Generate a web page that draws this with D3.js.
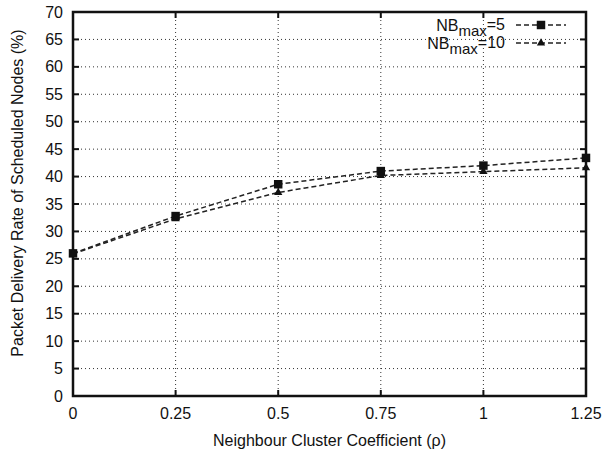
<!DOCTYPE html>
<meta charset="utf-8">
<style>
body { margin: 0; background: #fff; }
text { font-family: "Liberation Sans", Arial, sans-serif; fill: #111; }
.grid line { stroke: #333; stroke-dasharray: 1,3; stroke-width: 1; }
</style>
<body>
<script src="https://d3js.org/d3.v7.min.js"></script>
<script>
var xTicks = [0, 0.25, 0.5, 0.75, 1, 1.25];
var xLabels = ["0", "0.25", "0.5", "0.75", "1", "1.25"];
var yTicks = [0, 5, 10, 15, 20, 25, 30, 35, 40, 45, 50, 55, 60, 65, 70];
var nb5 = [26, 32.8, 38.6, 41.0, 42.0, 43.4];
var nb10 = [25.9, 32.3, 37.1, 40.2, 40.9, 41.6];
var seriesNames = ["5", "10"];

var width = 606, height = 454;
var margin = {top: 12, right: 20, bottom: 58, left: 73};
var w = width - margin.left - margin.right,
    h = height - margin.top - margin.bottom;

var svg = d3.select("body").append("svg")
    .attr("width", width)
    .attr("height", height);
var g = svg.append("g")
    .attr("transform", "translate(" + margin.left + "," + margin.top + ")");

var x = d3.scaleLinear().domain([0, 1.25]).range([0, w]);
var y = d3.scaleLinear().domain([0, 70]).range([h, 0]);

// grid
var grid = g.append("g").attr("class", "grid");
grid.selectAll(".gy").data(yTicks.slice(1, -1)).enter().append("line")
    .attr("x1", 0).attr("x2", w)
    .attr("y1", function(d) { return y(d); }).attr("y2", function(d) { return y(d); });
grid.selectAll(".gx").data(xTicks.slice(1, -1)).enter().append("line")
    .attr("y1", 0).attr("y2", h)
    .attr("x1", function(d) { return x(d); }).attr("x2", function(d) { return x(d); });

// inward ticks on all four sides
var tk = 6;
var ticks = g.append("g").attr("stroke", "#111").attr("stroke-width", 2);
yTicks.forEach(function(d) {
  ticks.append("line").attr("x1", 0).attr("x2", tk).attr("y1", y(d)).attr("y2", y(d));
  ticks.append("line").attr("x1", w).attr("x2", w - tk).attr("y1", y(d)).attr("y2", y(d));
});
xTicks.forEach(function(d) {
  ticks.append("line").attr("y1", h).attr("y2", h - tk).attr("x1", x(d)).attr("x2", x(d));
  ticks.append("line").attr("y1", 0).attr("y2", tk).attr("x1", x(d)).attr("x2", x(d));
});

// frame
g.append("rect").attr("width", w).attr("height", h)
    .attr("fill", "none").attr("stroke", "#111").attr("stroke-width", 2.5);

// tick labels
g.selectAll(".yl").data(yTicks).enter().append("text")
    .attr("x", -10).attr("y", function(d) { return y(d); })
    .attr("dy", "0.35em").attr("text-anchor", "end")
    .style("font-size", "16px").text(function(d) { return d; });
g.selectAll(".xl").data(xTicks).enter().append("text")
    .attr("x", function(d) { return x(d); }).attr("y", h + 23)
    .attr("text-anchor", "middle")
    .style("font-size", "16px").text(function(d, i) { return xLabels[i]; });

// axis titles
g.append("text").attr("x", w / 2).attr("y", h + 50)
    .attr("text-anchor", "middle").style("font-size", "16px")
    .text("Neighbour Cluster Coefficient (ρ)");
g.append("text").attr("transform", "rotate(-90)")
    .attr("x", -181).attr("y", -50)
    .attr("text-anchor", "middle").style("font-size", "16px")
    .text("Packet Delivery Rate of Scheduled Nodes (%)");

// series
var line = d3.line()
    .x(function(d, i) { return x(xTicks[i]); })
    .y(function(d) { return y(d); });

[nb5, nb10].forEach(function(s) {
  g.append("path").datum(s).attr("d", line)
      .attr("fill", "none").attr("stroke", "#222")
      .attr("stroke-width", 1.5).attr("stroke-dasharray", "5,3");
});

var sq = d3.symbol().type(d3.symbolSquare).size(72);
var tri = d3.symbol().type(d3.symbolTriangle).size(30);

g.selectAll(".p5").data(nb5).enter().append("path")
    .attr("d", sq)
    .attr("transform", function(d, i) { return "translate(" + x(xTicks[i]) + "," + y(d) + ")"; })
    .attr("fill", "#111");
g.selectAll(".p10").data(nb10).enter().append("path")
    .attr("d", tri)
    .attr("transform", function(d, i) { return "translate(" + x(xTicks[i]) + "," + y(d) + ")"; })
    .attr("fill", "#111");

// legend
var legend = g.append("g");
var rows = [{name: seriesNames[0], sym: sq}, {name: seriesNames[1], sym: tri}];
rows.forEach(function(r, i) {
  var ly = 13 + i * 18;
  var t = legend.append("text")
      .attr("x", w - 81).attr("y", ly).attr("dy", "0.35em")
      .attr("text-anchor", "end").style("font-size", "16px");
  t.append("tspan").text("NB");
  t.append("tspan").attr("dy", "0.35em").style("font-size", "15px").text("max");
  t.append("tspan").attr("dy", "-0.35em").text("=" + r.name);
  legend.append("line")
      .attr("x1", w - 70).attr("x2", w - 20)
      .attr("y1", ly).attr("y2", ly)
      .attr("stroke", "#222").attr("stroke-width", 1.5)
      .attr("stroke-dasharray", "5,3");
  legend.append("path").attr("d", r.sym)
      .attr("transform", "translate(" + (w - 45) + "," + ly + ")")
      .attr("fill", "#111");
});
</script>
</body>
